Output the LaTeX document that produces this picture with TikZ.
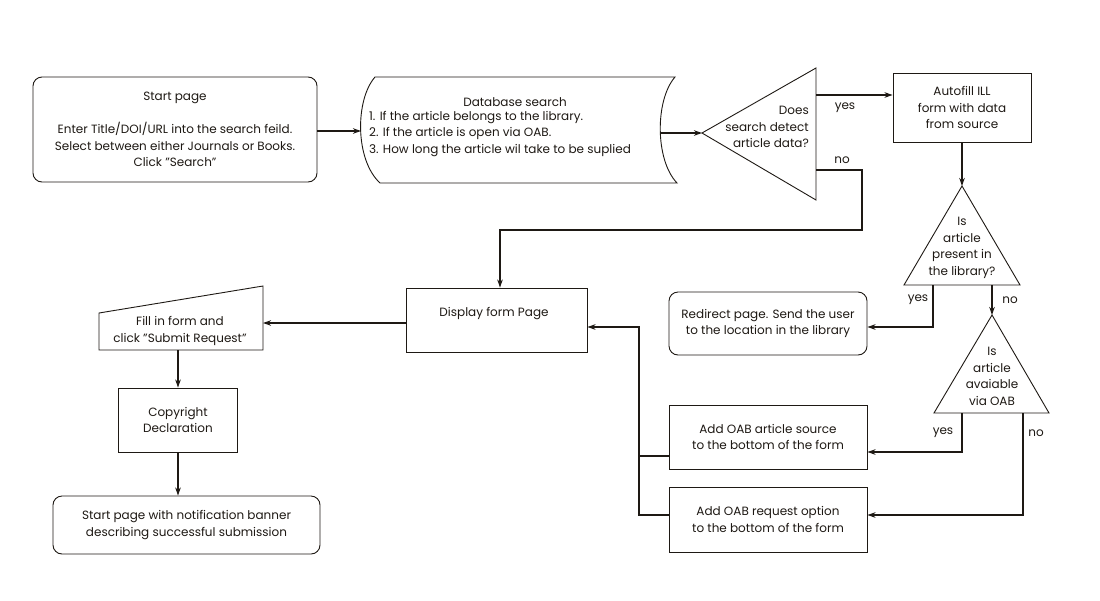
\documentclass[tikz,border=0pt]{standalone}
\usepackage{fontspec}
\setmainfont{Poppins}
\usetikzlibrary{arrows.meta}
\definecolor{ink}{HTML}{1E1914}
\newcommand{\dq}{\char"22\relax}
\begin{document}
\begin{tikzpicture}[x=1pt,y=-1pt,
  every node/.style={font=\fontsize{12}{16.5}\selectfont, text=ink, inner sep=0pt},
  box/.style={draw=ink, line width=0.9pt, inner sep=0pt},
  rbox/.style={box, rounded corners=9pt},
  outline/.style={draw=ink, line width=0.9pt},
  flow/.style={draw=ink, line width=1.1pt, -{Stealth[length=8pt,width=5.5pt,inset=2.5pt]}},
  link/.style={draw=ink, line width=1.1pt},
  lbl/.style={font=\fontsize{12}{14}\selectfont}
]
\fill[white] (0,0) rectangle (1100,600);
\useasboundingbox (0,0) rectangle (1100,600);

% ---- top row ----
\node[rbox, minimum width=284pt, minimum height=105pt, align=center] (start) at (175,129.5)
  {Start page\\[16.5pt]Enter Title/DOI/URL into the search feild.\\Select between either Journals or Books.\\Click \dq Search\dq};

% stored-data shape for the database search
\draw[outline] (375,77) -- (675,77) .. controls (655,100) and (655,160) .. (677,183)
  -- (380,183) .. controls (355,160) and (355,100) .. (375,77) -- cycle;
\coordinate (dbin) at (361,131);
\coordinate (dbout) at (660.5,133);
\node (dbtitle) at (515,102) {Database search};
\node[align=left] (dblist) at (500,134)
  {1. If the article belongs to the library.\\2. If the article is open via OAB.\\3. How long the article wil take to be suplied};

% decision: article data detected?
\coordinate (q1apex) at (702,133);
\coordinate (q1yes) at (816,95);
\coordinate (q1no) at (816,170);
\draw[outline] (q1apex) -- (816,68) -- (816,200) -- cycle;
\node[align=right, anchor=east] (q1) at (809,127) {Does\\search detect\\article data?};

\node[box, minimum width=138pt, minimum height=69pt, align=center] (auto) at (962,107.5)
  {Autofill ILL\\form with data\\from source};

% decision: present in the library?
\coordinate (q2apex) at (962,186);
\coordinate (q2yes) at (933,285);
\coordinate (q2no) at (992,285);
\draw[outline] (q2apex) -- (1020,285) -- (904,285) -- cycle;
\node[align=center] (q2) at (962,248) {Is\\article\\present in\\the library?};

% decision: available via OAB?
\coordinate (q3apex) at (992,315);
\coordinate (q3yes) at (962,413);
\coordinate (q3no) at (1023,413);
\draw[outline] (q3apex) -- (1049,413) -- (934,413) -- cycle;
\node[align=center] (q3) at (992,376.5) {Is\\article\\avaiable\\via OAB};

\node[rbox, minimum width=198pt, minimum height=63pt, align=center] (redir) at (768,323.5)
  {Redirect page. Send the user\\to the location in the library};
\node[box, minimum width=198pt, minimum height=64pt, align=center] (oabsrc) at (768,437)
  {Add OAB article source\\to the bottom of the form};
\node[box, minimum width=198pt, minimum height=65pt, align=center] (oabreq) at (768,519.5)
  {Add OAB request option\\to the bottom of the form};

% ---- form page and submission ----
\node[box, minimum width=181pt, minimum height=64pt] (disp) at (496.5,320) {};
\node (disptxt) at (494,314) {Display form Page};

% manual-input shape
\draw[outline] (99,313) -- (263,286) -- (263,350) -- (99,350) -- cycle;
\coordinate (fillR) at (263,323);
\coordinate (fillB) at (178,350);
\node[align=center] (fill) at (180,331) {Fill in form and\\click \dq Submit Request\dq};

\node[box, minimum width=119pt, minimum height=64pt, align=center] (copy) at (178,420)
  {Copyright\\Declaration};
\node[rbox, minimum width=267pt, minimum height=58pt, align=center] (finish) at (186.5,525)
  {Start page with notification banner\\describing successful submission};

% ---- connectors ----
\draw[flow] (start.east |- dbin) -- (dbin);
\draw[flow] (dbout) -- (q1apex);
\draw[flow] (q1yes) -- (auto.west |- q1yes);
\node[lbl] (lyes1) at (845,108) {yes};
\draw[flow] (q1no) -| (862,230) -| ([xshift=3.5pt]disp.north);
\node[lbl] (lno1) at (842,160) {no};
\draw[flow] (auto.south) -- (q2apex);

\draw[flow] (q2yes) |- ([yshift=-3.5pt]redir.east);
\node[lbl] (lyes2) at (918,300) {yes};
\draw[flow] (q2no) -- (q3apex);
\node[lbl] (lno2) at (1010,300) {no};

\draw[flow] (q3yes) |- ([yshift=-15pt]oabsrc.east);
\node[lbl] (lyes3) at (943,433) {yes};
\draw[flow] (q3no) |- ([yshift=4.5pt]oabreq.east);
\node[lbl] (lno3) at (1036,433) {no};

\coordinate (busTop) at (639,327);
\coordinate (busBot) at (639,515);
\draw[link] ([yshift=-19pt]oabsrc.west) -- (busTop |- 0,456);
\draw[flow] ([yshift=4.5pt]oabreq.west) -- (busBot) -- (busTop) -- ([yshift=-7pt]disp.east);

\draw[flow] ([yshift=-3pt]disp.west) -- (fillR);
\draw[flow] (fillB) -- (copy.north);
\draw[flow] (copy.south) -- (copy.south |- finish.north);
\end{tikzpicture}
\end{document}
